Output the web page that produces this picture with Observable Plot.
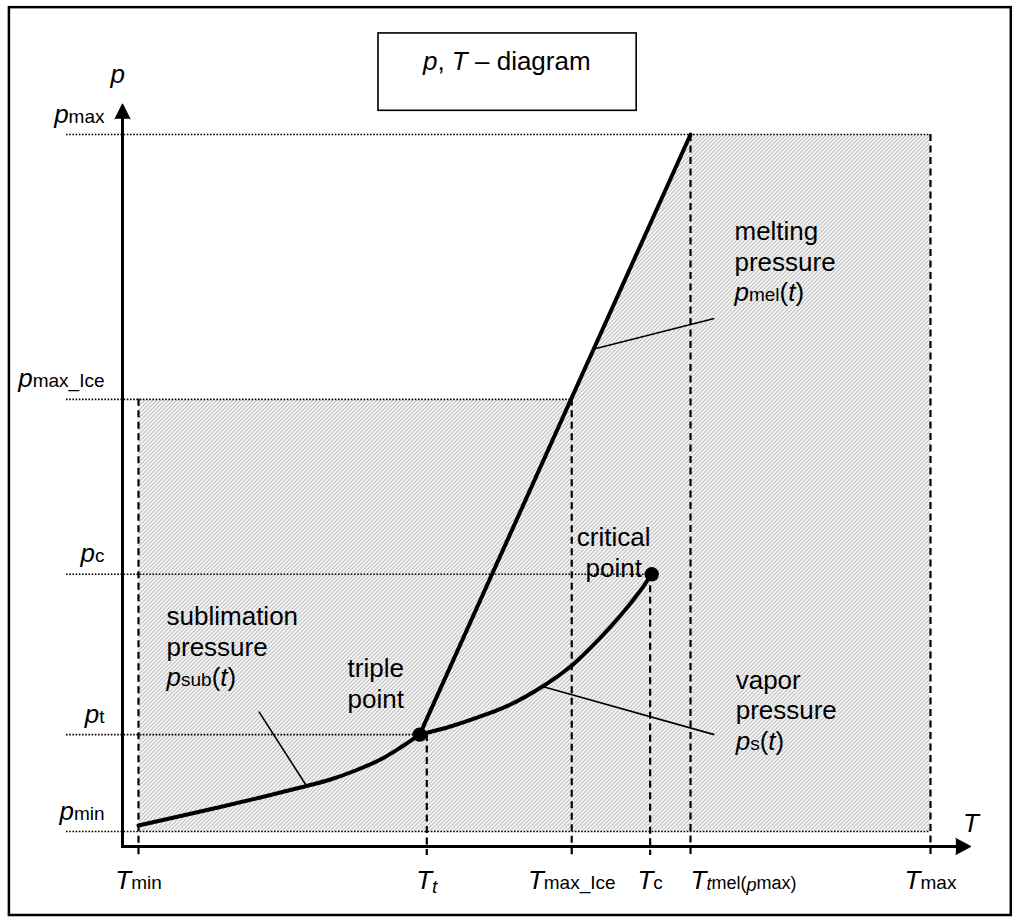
<!DOCTYPE html>
<html><head><meta charset="utf-8">
<script src="https://cdn.jsdelivr.net/npm/d3@7"></script>
<script src="https://cdn.jsdelivr.net/npm/@observablehq/plot@0.6"></script>
<style>
html,body{margin:0;padding:0;background:#fff;}
svg text{white-space:pre;}
</style></head><body><div id="chart"></div>
<script>
// ---- values (schematic units: Tmin = 0 .. Tmax = 100, pmin = 0 .. pmax = 100) ----
const tNames  = ["Tmin", "Tt", "Tmax_Ice", "Tc", "Ttmel(pmax)", "Tmax"];
const tValues = [0, 36.4, 54.7, 64.6, 69.7, 100];
const pNames  = ["pmax", "pmax_Ice", "pc", "pt", "pmin"];
const pValues = [100, 62.0, 36.9, 13.9, 0];

const subT = [0, 7.83, 15.4, 20.45, 24.24, 27.4, 30.56, 33.08, 35.5];
const subP = [0.86, 2.87, 4.88, 6.31, 7.46, 8.75, 10.33, 12.05, 13.9];
const vapT = [35.5, 39.39, 43.18, 46.97, 51.01, 54.55, 58.33, 60.86, 63.38, 64.77];
const vapP = [13.9, 15.06, 16.5, 18.22, 20.8, 23.67, 27.83, 30.99, 34.58, 36.87];
const melT = [35.5, 69.7];
const melP = [13.9, 100];
const pointNames = ["triple point", "critical point"];
const pointT = [35.5, 64.8];
const pointP = [13.9, 36.9];

// ---- layout ----
const X0 = 138, X1 = 930, Y0 = 831, Y1 = 134;
const kx = (X1 - X0) / 100, ky = (Y0 - Y1) / 100;
const T = n => tValues[tNames.indexOf(n)];
const P = n => pValues[pNames.indexOf(n)];
const fam = "Liberation Sans, Arial, Helvetica, sans-serif";

const axisT = -2.02, axisP = -2.15, tipP = 104.4, tipT = 105.1;
const ruleLeft = -9.09, tickBottom = -3.44;

const dottedEnd = {pmax: "Tmax", pmax_Ice: "Tmax_Ice", pc: "Tc", pt: "Tt", pmin: "Tmax"};
const dotted = pNames.map((n, i) => ({p: pValues[i], x1: ruleLeft, x2: n === "pt" ? pointT[0] : n === "pc" ? pointT[1] : T(dottedEnd[n])}));
const dashedTop = {Tmin: "pmax_Ice", Tt: "pt", Tmax_Ice: "pmax_Ice", Tc: "pc", "Ttmel(pmax)": "pmax", Tmax: "pmax"};
const dashed = tNames.map((n, i) => ({t: tValues[i], y1: P(dashedTop[n]), y2: tickBottom}));

const hatch = [
  {t: T("Tmin"), p: P("pmax_Ice")}, {t: T("Tmax_Ice"), p: P("pmax_Ice")},
  {t: T("Ttmel(pmax)"), p: P("pmax")}, {t: T("Tmax"), p: P("pmax")},
  {t: T("Tmax"), p: P("pmin")}, {t: T("Tmin"), p: P("pmin")}
];
const sub = subT.map((t, i) => ({t, p: subP[i]}));
const vap = vapT.map((t, i) => ({t, p: vapP[i]}));
const mel = melT.map((t, i) => ({t, p: melP[i]}));
const pts = pointNames.map((n, i) => ({n, t: pointT[i], p: pointP[i]}));

const leaders = [
  {x1: 57.4, y1: 69.2, x2: 72.7, y2: 73.6},
  {x1: 15.2, y1: 17.2, x2: 21.1, y2: 6.74},
  {x1: vapT[4], y1: vapP[4], x2: 72.7, y2: 13.9}
];
const LH = 30.5 / ky;
const notes = [
  {lines: ["melting", "pressure", "pmel(t)"], t: 75.25, p: 84.8, a: "start"},
  {lines: ["critical", "point"], t: 60.0, p: 40.9, a: "middle"},
  {lines: ["sublimation", "pressure", "psub(t)"], t: 3.54, p: 29.6, a: "start"},
  {lines: ["triple", "point"], t: 26.4, p: 22.1, a: "start"},
  {lines: ["vapor", "pressure", "ps(t)"], t: 75.4, p: 20.5, a: "start"}
];
const noteRows = notes.flatMap(n => n.lines.map((s, i) => ({s, t: n.t, p: n.p - i * LH, a: n.a})));

const tLabels = tNames.map((n, i) => ({n, t: tValues[i]}));
const pLabels = pNames.map((n, i) => ({n, p: pValues[i]}));

const chart = Plot.plot({
  width: 1019, height: 923, margin: 0,
  style: {fontFamily: fam, background: "white"},
  x: {domain: [0, 100], range: [X0, X1], axis: null},
  y: {domain: [0, 100], range: [Y0, Y1], axis: null},
  marks: [
    Plot.line(hatch, {x: "t", y: "p", fill: "url(#hatch)", stroke: "none"}),
    Plot.ruleY(dotted, {y: "p", x1: "x1", x2: "x2", stroke: "black", strokeWidth: 1.6, strokeDasharray: "1.6 1.6"}),
    Plot.ruleX(dashed, {x: "t", y1: "y1", y2: "y2", stroke: "black", strokeWidth: 2.2, strokeDasharray: "7 4.5"}),
    // axes
    Plot.link([0], {x1: axisT, y1: axisP, x2: axisT, y2: tipP - 8 / ky, stroke: "black", strokeWidth: 3}),
    Plot.link([0], {x1: axisT - 1.5 / kx, y1: axisP, x2: tipT - 8 / kx, y2: axisP, stroke: "black", strokeWidth: 3}),
    Plot.vector([0], {x: axisT, y: tipP, rotate: 0, length: 15, r: 7.5, shape: "spike", anchor: "end", fill: "black", stroke: "black", strokeWidth: 1}),
    Plot.vector([0], {x: tipT, y: axisP, rotate: 90, length: 15, r: 8, shape: "spike", anchor: "end", fill: "black", stroke: "black", strokeWidth: 1}),
    // curves
    Plot.line(sub, {x: "t", y: "p", curve: "catmull-rom", stroke: "black", strokeWidth: 4}),
    Plot.line(vap, {x: "t", y: "p", curve: "catmull-rom", stroke: "black", strokeWidth: 4}),
    Plot.line(mel, {x: "t", y: "p", stroke: "black", strokeWidth: 4}),
    Plot.link(leaders, {x1: "x1", y1: "y1", x2: "x2", y2: "y2", stroke: "black", strokeWidth: 1.6}),
    Plot.dot(pts, {x: "t", y: "p", r: 7.2, fill: "black", stroke: "none"}),
    // frames
    Plot.rect([0], {x1: -16.3, x2: 110.2, y1: 118.2, y2: -12.05, fill: "none", stroke: "black", strokeWidth: 2.5}),
    Plot.rect([0], {x1: 30.3, x2: 62.9, y1: 114.5, y2: 103.4, fill: "none", stroke: "black", strokeWidth: 1.6}),
    // texts
    Plot.text(["p, T – diagram"], {x: 46.5, y: 109.3, text: d => d, textAnchor: "middle", lineAnchor: "bottom", fontSize: 26, fill: "black"}),
    Plot.text(["p"], {x: axisT, y: tipP, text: d => d, textAnchor: "start", lineAnchor: "bottom", dx: -12, dy: -21, fontSize: 26, fill: "black"}),
    Plot.text(["T"], {x: tipT, y: axisP, text: d => d, textAnchor: "start", lineAnchor: "bottom", dx: -8, dy: -14, fontSize: 26, fill: "black"}),
    Plot.text(pLabels, {x: ruleLeft, y: "p", text: "n", textAnchor: "end", lineAnchor: "bottom", dx: 38, dy: -12, fontSize: 26, fill: "black"}),
    Plot.text(tLabels.filter(d => d.n !== "Ttmel(pmax)"), {x: "t", y: 0, text: "n", textAnchor: "middle", lineAnchor: "bottom", dy: 57, fontSize: 26, fill: "black"}),
    Plot.text(tLabels.filter(d => d.n === "Ttmel(pmax)"), {x: "t", y: 0, text: "n", textAnchor: "start", lineAnchor: "bottom", dy: 57, fontSize: 26, fill: "black"}),
    Plot.text(noteRows.filter(d => d.a === "start"), {x: "t", y: "p", text: "s", textAnchor: "start", lineAnchor: "bottom", fontSize: 26, fill: "black"}),
    Plot.text(noteRows.filter(d => d.a === "middle"), {x: "t", y: "p", text: "s", textAnchor: "middle", lineAnchor: "bottom", fontSize: 26, fill: "black"})
  ]
});

// hatch pattern
const defs = d3.select(chart).insert("defs", ":first-child");
const pat = defs.append("pattern").attr("id", "hatch").attr("patternUnits", "userSpaceOnUse").attr("width", 4).attr("height", 4);
pat.append("rect").attr("width", 4).attr("height", 4).attr("fill", "white");
pat.append("path").attr("d", "M-1,1L1,-1M0,4L4,0M3,5L5,3").attr("stroke", "#8a8a8a").attr("stroke-width", 1);

// rich text (italic symbols, smaller subscripts)
const I = (s, size = 26, dy = 0) => ({s, it: true, size, dy});
const R = (s, size = 26, dy = 0) => ({s, it: false, size, dy});
const rich = {
  "p, T – diagram": [I("p"), R(", "), I("T"), R(" – diagram")],
  "p": [I("p")], "T": [I("T")],
  "pmax": [I("p"), R("max", 19)],
  "pmax_Ice": [I("p"), R("max_Ice", 19)],
  "pc": [I("p"), R("c", 19)],
  "pt": [I("p"), R("t", 19)],
  "pmin": [I("p"), R("min", 19)],
  "Tmin": [I("T"), R("min", 19)],
  "Tt": [I("T"), I("t", 19, 4)],
  "Tmax_Ice": [I("T"), R("max_Ice", 19)],
  "Tc": [I("T"), R("c", 19)],
  "Ttmel(pmax)": [I("T"), I("t", 18, 1), R("mel(", 18), I("p", 18, 2), R("max)", 18)],
  "Tmax": [I("T"), R("max", 19)],
  "pmel(t)": [I("p"), R("mel", 19), R("("), I("t"), R(")")],
  "psub(t)": [I("p"), R("sub", 19), R("("), I("t"), R(")")],
  "ps(t)": [I("p"), R("s", 19), R("("), I("t"), R(")")]
};
chart.querySelectorAll("text").forEach(el => {
  const parts = rich[el.textContent];
  if (!parts) return;
  while (el.firstChild) el.removeChild(el.firstChild);
  let shift = 0;
  for (const part of parts) {
    const ts = document.createElementNS("http://www.w3.org/2000/svg", "tspan");
    ts.textContent = part.s;
    ts.setAttribute("font-size", part.size);
    ts.setAttribute("font-style", part.it ? "italic" : "normal");
    const d = part.dy - shift;
    if (d) ts.setAttribute("dy", d);
    shift = part.dy;
    el.appendChild(ts);
  }
});
document.getElementById("chart").appendChild(chart);
</script></body></html>
